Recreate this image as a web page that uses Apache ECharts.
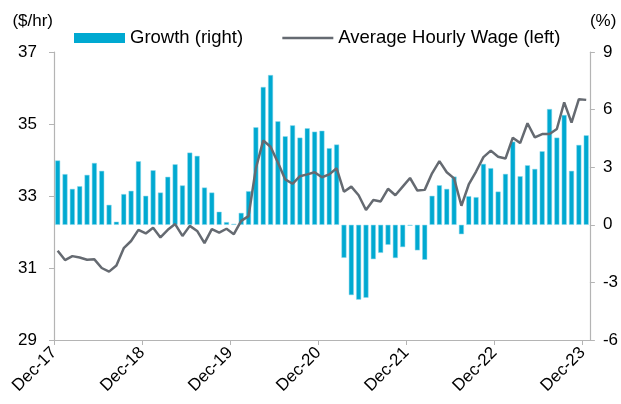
<!DOCTYPE html>
<html lang="en">
<head>
    <meta charset="UTF-8">
    <title>Average Hourly Wage</title>
    <script src="https://cdn.jsdelivr.net/npm/echarts@6/dist/echarts.min.js"></script>
    <style>
        body{
            margin: 0;
            background: #fff;
        }
    </style>
</head>
<body>
    <div id="main" style="width: 621px; height: 404px;"></div>

    <script>
        // monthly, Dec-17 .. Dec-23
        var growth = [
            3.35, 2.64, 1.87, 2.01, 2.60, 3.22, 2.81, 1.04, 0.16, 1.60, 1.77, 3.31,
            1.51, 2.84, 1.68, 2.50, 3.15, 2.05, 3.76, 3.59, 1.94, 1.68, 0.68, 0.14,
            0.05, 0.62, 1.75, 5.08, 7.18, 7.80, 5.39, 4.61, 5.18, 4.54, 5.03, 4.85,
            4.90, 3.99, 4.18, -1.72, -3.66, -3.90, -3.80, -1.79, -1.46, -1.04, -1.73, -1.16,
            -0.05, -1.33, -1.82, 1.51, 2.06, 1.87, 2.51, -0.49, 1.49, 1.44, 3.17, 2.95,
            1.73, 2.65, 4.33, 2.53, 3.10, 2.91, 3.83, 6.03, 4.54, 5.72, 2.81, 4.16,
            4.66
        ];
        var wage = [
            31.48, 31.22, 31.33, 31.29, 31.23, 31.24, 31.00, 30.90, 31.07, 31.55, 31.75, 32.06,
            31.96, 32.12, 31.85, 32.06, 32.22, 31.89, 32.17, 32.03, 31.69, 32.08, 31.98, 32.09,
            31.94, 32.31, 32.44, 33.77, 34.54, 34.37, 33.93, 33.46, 33.34, 33.55, 33.60, 33.66,
            33.52, 33.60, 33.77, 33.12, 33.26, 33.02, 32.61, 32.89, 32.85, 33.20, 33.02, 33.26,
            33.50, 33.15, 33.17, 33.63, 33.97, 33.66, 33.49, 32.73, 33.32, 33.68, 34.08, 34.26,
            34.09, 34.04, 34.62, 34.47, 35.02, 34.63, 34.72, 34.72, 34.86, 35.60, 35.04, 35.69,
            35.67
        ];
        var monthNames = ['Jan', 'Feb', 'Mar', 'Apr', 'May', 'Jun', 'Jul', 'Aug', 'Sep', 'Oct', 'Nov', 'Dec'];

        // category names: one per month from Dec-17, plus one extra boundary for the tick axis
        var months = [];
        for (var k = 0; k <= growth.length; k++) {
            var m = (11 + k) % 12;
            var y = 17 + Math.floor((11 + k) / 12);
            months.push(monthNames[m] + '-' + y);
        }
        var barMonths = months.slice(0, growth.length);

        var font = "'Liberation Sans', Arial, sans-serif";
        var axisGrey = '#b4b4b4';

        var mycharts = echarts.init(document.getElementById('main'));

        var option = {
            animation: false,
            textStyle: { fontFamily: font, color: '#000' },
            grid: { left: 54, right: 29, top: 52, bottom: 64 },
            legend: {
                top: 28,
                left: 74,
                padding: 0,
                itemWidth: 51,
                itemHeight: 10,
                itemGap: 38,
                textStyle: { fontFamily: font, fontSize: 18.5, color: '#000', lineHeight: 20 },
                data: [
                    { name: 'Growth (right)', icon: 'rect', itemStyle: { borderWidth: 0 } },
                    { name: 'Average Hourly Wage (left)', itemStyle: { opacity: 0 }, lineStyle: { width: 2.5 } }
                ]
            },
            xAxis: [{
                type: 'category',
                data: barMonths,
                boundaryGap: true,
                axisLine: { show: false },
                axisTick: { show: false },
                axisLabel: { show: false }
            }, {
                type: 'category',
                position: 'bottom',
                data: months,
                boundaryGap: false,
                axisLine: { lineStyle: { color: axisGrey, width: 1.2 } },
                axisTick: { interval: 11, length: 5, lineStyle: { color: axisGrey } },
                axisLabel: {
                    interval: 11,
                    rotate: 45,
                    margin: 10,
                    fontSize: 17,
                    color: '#000',
                    fontFamily: font
                }
            }],
            yAxis: [{
                type: 'value',
                position: 'left',
                min: 29,
                max: 37,
                interval: 2,
                name: '($/hr)',
                nameGap: 22,
                nameTextStyle: { fontSize: 17, color: '#000', align: 'right', padding: [0, 1, 0, 0] },
                splitLine: { show: false },
                axisLine: { show: true, lineStyle: { color: axisGrey, width: 1.2 } },
                axisTick: { show: true, length: 5, lineStyle: { color: axisGrey } },
                axisLabel: { fontSize: 17, color: '#000', margin: 17 }
            }, {
                type: 'value',
                position: 'right',
                min: -6,
                max: 9,
                interval: 3,
                name: '(%)',
                nameGap: 22,
                nameTextStyle: { fontSize: 17, color: '#000', align: 'left' },
                splitLine: { show: false },
                axisLine: { show: true, lineStyle: { color: axisGrey, width: 1.2 } },
                axisTick: { show: true, length: 5, lineStyle: { color: axisGrey } },
                axisLabel: { fontSize: 17, color: '#000', margin: 13 }
            }],
            series: [{
                name: 'Growth (right)',
                type: 'bar',
                xAxisIndex: 0,
                yAxisIndex: 1,
                data: growth,
                barWidth: 5,
                itemStyle: { color: '#00a9d1', borderColor: '#8fd8ea', borderWidth: 0.5 },
                z: 2
            }, {
                name: 'Average Hourly Wage (left)',
                type: 'line',
                xAxisIndex: 0,
                yAxisIndex: 0,
                data: wage,
                symbol: 'none',
                lineStyle: { color: '#656a71', width: 2.5 },
                itemStyle: { color: '#656a71' },
                z: 3
            }]
        };

        mycharts.setOption(option);
    </script>
</body>
</html>
